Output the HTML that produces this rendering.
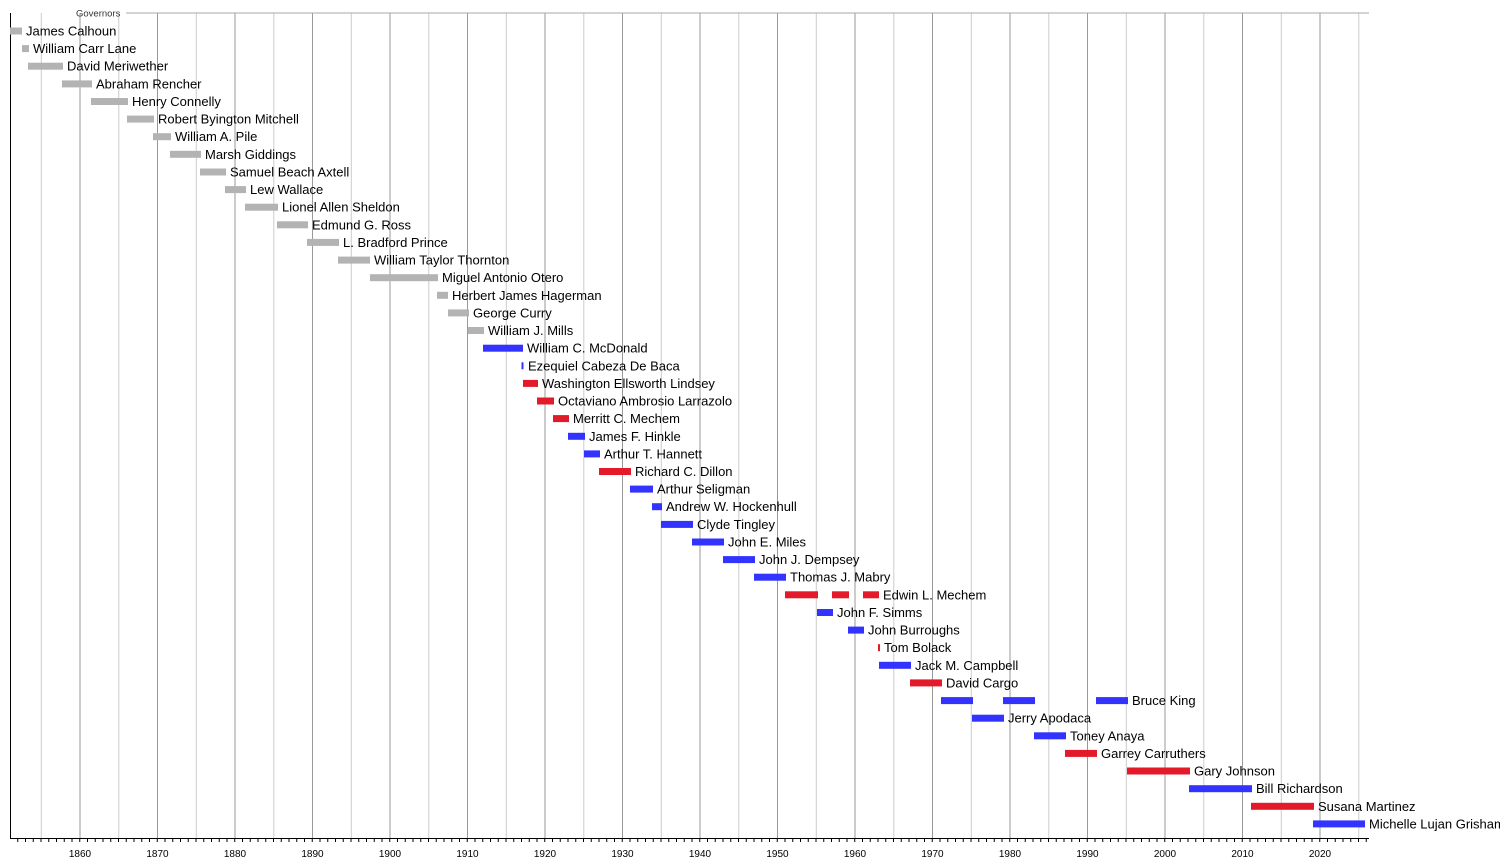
<!DOCTYPE html>
<html><head><meta charset="utf-8"><style>
html,body{margin:0;padding:0;background:#fff;}
svg{display:block;font-family:"Liberation Sans",sans-serif;}
</style></head><body>
<svg width="1500" height="858" viewBox="0 0 1500 858" xmlns="http://www.w3.org/2000/svg">
<g stroke="#cccccc" stroke-width="1">
<line x1="41.3" y1="13" x2="41.3" y2="838"/><line x1="118.8" y1="13" x2="118.8" y2="838"/><line x1="196.3" y1="13" x2="196.3" y2="838"/><line x1="273.8" y1="13" x2="273.8" y2="838"/><line x1="351.3" y1="13" x2="351.3" y2="838"/><line x1="428.8" y1="13" x2="428.8" y2="838"/><line x1="506.3" y1="13" x2="506.3" y2="838"/><line x1="583.8" y1="13" x2="583.8" y2="838"/><line x1="661.3" y1="13" x2="661.3" y2="838"/><line x1="738.8" y1="13" x2="738.8" y2="838"/><line x1="816.3" y1="13" x2="816.3" y2="838"/><line x1="893.8" y1="13" x2="893.8" y2="838"/><line x1="971.3" y1="13" x2="971.3" y2="838"/><line x1="1048.8" y1="13" x2="1048.8" y2="838"/><line x1="1126.3" y1="13" x2="1126.3" y2="838"/><line x1="1203.8" y1="13" x2="1203.8" y2="838"/><line x1="1281.3" y1="13" x2="1281.3" y2="838"/><line x1="1358.8" y1="13" x2="1358.8" y2="838"/>
</g>
<g stroke="#999999" stroke-width="1">
<line x1="80" y1="13" x2="80" y2="838"/><line x1="157.5" y1="13" x2="157.5" y2="838"/><line x1="235" y1="13" x2="235" y2="838"/><line x1="312.5" y1="13" x2="312.5" y2="838"/><line x1="390" y1="13" x2="390" y2="838"/><line x1="467.5" y1="13" x2="467.5" y2="838"/><line x1="545" y1="13" x2="545" y2="838"/><line x1="622.5" y1="13" x2="622.5" y2="838"/><line x1="700" y1="13" x2="700" y2="838"/><line x1="777.5" y1="13" x2="777.5" y2="838"/><line x1="855" y1="13" x2="855" y2="838"/><line x1="932.5" y1="13" x2="932.5" y2="838"/><line x1="1010" y1="13" x2="1010" y2="838"/><line x1="1087.5" y1="13" x2="1087.5" y2="838"/><line x1="1165" y1="13" x2="1165" y2="838"/><line x1="1242.5" y1="13" x2="1242.5" y2="838"/><line x1="1320" y1="13" x2="1320" y2="838"/>
</g>
<line x1="126" y1="13" x2="1369" y2="13" stroke="#aaaaaa"/>
<text x="76" y="16.5" font-size="9.5" fill="#333">Governors</text>
<line x1="10.5" y1="13" x2="10.5" y2="838" stroke="#000"/>
<line x1="10" y1="838.5" x2="1369" y2="838.5" stroke="#000"/>
<line x1="17.25" y1="840" x2="1369" y2="840" stroke="#000" stroke-width="4" stroke-dasharray="1 6.75"/>
<g font-size="10" fill="#000" text-anchor="middle">
<text x="80" y="857">1860</text><text x="157.5" y="857">1870</text><text x="235" y="857">1880</text><text x="312.5" y="857">1890</text><text x="390" y="857">1900</text><text x="467.5" y="857">1910</text><text x="545" y="857">1920</text><text x="622.5" y="857">1930</text><text x="700" y="857">1940</text><text x="777.5" y="857">1950</text><text x="855" y="857">1960</text><text x="932.5" y="857">1970</text><text x="1010" y="857">1980</text><text x="1087.5" y="857">1990</text><text x="1165" y="857">2000</text><text x="1242.5" y="857">2010</text><text x="1320" y="857">2020</text>
</g>
<g fill="#b3b3b3">
<rect x="10" y="27.5" width="12" height="7"/>
<rect x="22" y="45.1" width="7" height="7"/>
<rect x="28" y="62.7" width="35" height="7"/>
<rect x="62" y="80.4" width="30" height="7"/>
<rect x="91" y="98" width="37" height="7"/>
<rect x="127" y="115.6" width="27" height="7"/>
<rect x="153" y="133.2" width="18" height="7"/>
<rect x="170" y="150.8" width="31" height="7"/>
<rect x="200" y="168.5" width="26" height="7"/>
<rect x="225" y="186.1" width="21" height="7"/>
<rect x="245" y="203.7" width="33" height="7"/>
<rect x="277" y="221.3" width="31" height="7"/>
<rect x="307" y="238.9" width="32" height="7"/>
<rect x="338" y="256.6" width="32" height="7"/>
<rect x="370" y="274.2" width="68" height="7"/>
<rect x="437" y="291.8" width="11" height="7"/>
<rect x="448" y="309.4" width="21" height="7"/>
<rect x="468" y="327" width="16" height="7"/>
</g>
<g fill="#3333ff">
<rect x="483" y="344.7" width="40" height="7"/>
<rect x="521.5" y="362.3" width="2" height="7"/>
<rect x="568" y="432.8" width="17" height="7"/>
<rect x="584" y="450.4" width="16" height="7"/>
<rect x="630" y="485.6" width="23" height="7"/>
<rect x="652" y="503.2" width="10" height="7"/>
<rect x="661" y="520.9" width="32" height="7"/>
<rect x="692" y="538.5" width="32" height="7"/>
<rect x="723" y="556.1" width="32" height="7"/>
<rect x="754" y="573.7" width="32" height="7"/>
<rect x="817" y="609" width="16" height="7"/>
<rect x="848" y="626.6" width="16" height="7"/>
<rect x="879" y="661.8" width="32" height="7"/>
<rect x="941" y="697.1" width="32" height="7"/>
<rect x="1003" y="697.1" width="32" height="7"/>
<rect x="1096" y="697.1" width="32" height="7"/>
<rect x="972" y="714.7" width="32" height="7"/>
<rect x="1034" y="732.3" width="32" height="7"/>
<rect x="1189" y="785.2" width="63" height="7"/>
<rect x="1313" y="820.4" width="52" height="7"/>
</g>
<g fill="#e31a2a">
<rect x="523" y="379.9" width="15" height="7"/>
<rect x="537" y="397.5" width="17" height="7"/>
<rect x="553" y="415.1" width="16" height="7"/>
<rect x="599" y="468" width="32" height="7"/>
<rect x="785" y="591.3" width="33" height="7"/>
<rect x="832" y="591.3" width="17" height="7"/>
<rect x="863" y="591.3" width="16" height="7"/>
<rect x="878" y="644.2" width="2" height="7"/>
<rect x="910" y="679.4" width="32" height="7"/>
<rect x="1065" y="749.9" width="32" height="7"/>
<rect x="1127" y="767.5" width="63" height="7"/>
<rect x="1251" y="802.8" width="63" height="7"/>
</g>
<g font-size="13" fill="#000">
<text x="26" y="35.5">James Calhoun</text>
<text x="33" y="53.1">William Carr Lane</text>
<text x="67" y="70.7">David Meriwether</text>
<text x="96" y="88.4">Abraham Rencher</text>
<text x="132" y="106">Henry Connelly</text>
<text x="158" y="123.6">Robert Byington Mitchell</text>
<text x="175" y="141.2">William A. Pile</text>
<text x="205" y="158.8">Marsh Giddings</text>
<text x="230" y="176.5">Samuel Beach Axtell</text>
<text x="250" y="194.1">Lew Wallace</text>
<text x="282" y="211.7">Lionel Allen Sheldon</text>
<text x="312" y="229.3">Edmund G. Ross</text>
<text x="343" y="246.9">L. Bradford Prince</text>
<text x="374" y="264.6">William Taylor Thornton</text>
<text x="442" y="282.2">Miguel Antonio Otero</text>
<text x="452" y="299.8">Herbert James Hagerman</text>
<text x="473" y="317.4">George Curry</text>
<text x="488" y="335">William J. Mills</text>
<text x="527" y="352.7">William C. McDonald</text>
<text x="528" y="370.3">Ezequiel Cabeza De Baca</text>
<text x="542" y="387.9">Washington Ellsworth Lindsey</text>
<text x="558" y="405.5">Octaviano Ambrosio Larrazolo</text>
<text x="573" y="423.1">Merritt C. Mechem</text>
<text x="589" y="440.8">James F. Hinkle</text>
<text x="604" y="458.4">Arthur T. Hannett</text>
<text x="635" y="476">Richard C. Dillon</text>
<text x="657" y="493.6">Arthur Seligman</text>
<text x="666" y="511.2">Andrew W. Hockenhull</text>
<text x="697" y="528.9">Clyde Tingley</text>
<text x="728" y="546.5">John E. Miles</text>
<text x="759" y="564.1">John J. Dempsey</text>
<text x="790" y="581.7">Thomas J. Mabry</text>
<text x="883" y="599.3">Edwin L. Mechem</text>
<text x="837" y="617">John F. Simms</text>
<text x="868" y="634.6">John Burroughs</text>
<text x="884" y="652.2">Tom Bolack</text>
<text x="915" y="669.8">Jack M. Campbell</text>
<text x="946" y="687.4">David Cargo</text>
<text x="1132" y="705.1">Bruce King</text>
<text x="1008" y="722.7">Jerry Apodaca</text>
<text x="1070" y="740.3">Toney Anaya</text>
<text x="1101" y="757.9">Garrey Carruthers</text>
<text x="1194" y="775.5">Gary Johnson</text>
<text x="1256" y="793.2">Bill Richardson</text>
<text x="1318" y="810.8">Susana Martinez</text>
<text x="1369" y="828.4">Michelle Lujan Grisham</text>
</g>
</svg>
</body></html>
